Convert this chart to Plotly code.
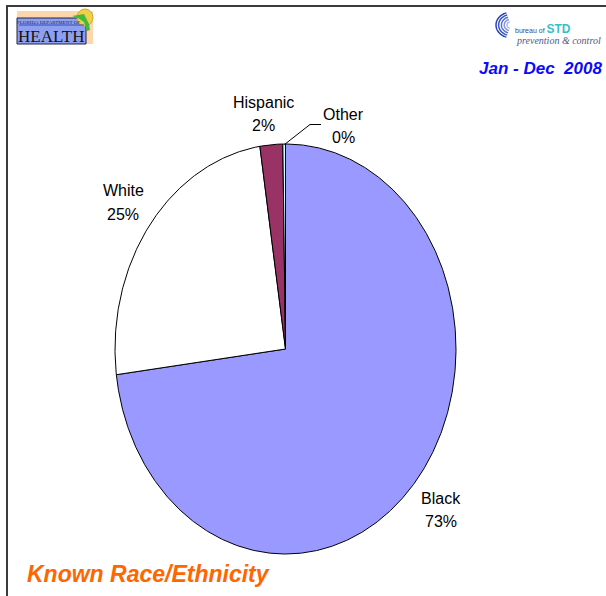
import numpy as np
import plotly.graph_objects as go

# ---- data ----
categories = ["Black", "White", "Hispanic", "Other"]
values = [73.0, 24.6, 2.15, 0.25]
colors = ["#9999ff", "#ffffff", "#993366", "#ccffff"]
title_text = "Known Race/Ethnicity"
period_text = "Jan - Dec  2008"

W, H = 606, 596
CX, CY, RX, RY = 285.5, 349.0, 170.5, 205.0

def px(x):
    return x / W

def py(y):
    return 1 - y / H

fig = go.Figure()

# pie slices: unit-circle wedges, stretched into an ellipse by the axis scaling
total = sum(values)
start = 0.0
for cat, val, col in zip(categories, values, colors):
    frac = val / total
    a0, a1 = start * 2 * np.pi, (start + frac) * 2 * np.pi
    n = max(4, int(frac * 720))
    t = np.linspace(a0, a1, n)
    xs = np.concatenate([[0], np.sin(t), [0]])
    ys = np.concatenate([[0], np.cos(t), [0]])
    fig.add_trace(go.Scatter(x=xs, y=ys, mode="lines", fill="toself",
                             fillcolor=col, line=dict(color="black", width=1),
                             name=cat, hoverinfo="name", showlegend=False))
    start += frac

# axis ranges so that unit circle maps onto the ellipse in pixel space
x_range = [-CX / RX, (W - CX) / RX]
y_range = [-(H - CY) / RY, CY / RY]

fig.update_layout(
    width=W, height=H,
    margin=dict(l=0, r=0, t=0, b=0),
    paper_bgcolor="white", plot_bgcolor="white",
    xaxis=dict(range=x_range, visible=False, fixedrange=True),
    yaxis=dict(range=y_range, visible=False, fixedrange=True),
    showlegend=False,
)

# slice labels
label_pos = {"Black": (441, 498), "White": (123, 191),
             "Hispanic": (263, 102), "Other": (343, 114)}
lab_font = dict(family="Liberation Sans, Arial", size=16, color="black")
for cat, val in zip(categories, values):
    x, y = label_pos[cat]
    pct = f"{val / total * 100:.0f}%"
    fig.add_annotation(x=px(x), y=py(y), xref="paper", yref="paper", text=cat,
                       showarrow=False, font=lab_font, xanchor="center", yanchor="middle")
    fig.add_annotation(x=px(x), y=py(y + 23), xref="paper", yref="paper", text=pct,
                       showarrow=False, font=lab_font, xanchor="center", yanchor="middle")

shapes = []
# leader line for "Other"
shapes.append(dict(type="path", xref="paper", yref="paper",
                   path=f"M {px(284.5)} {py(144.5)} L {px(310)} {py(124.5)} L {px(321)} {py(124.5)}",
                   line=dict(color="black", width=1)))
# frame lines (top and left)
shapes.append(dict(type="line", xref="paper", yref="paper", x0=px(6), x1=1, y0=py(6), y1=py(6),
                   line=dict(color="#3c3c3c", width=2)))
shapes.append(dict(type="line", xref="paper", yref="paper", x0=px(7), x1=px(7), y0=py(5), y1=0,
                   line=dict(color="#3c3c3c", width=2)))

# Florida Dept of Health logo (approximation)
shapes.append(dict(type="rect", xref="paper", yref="paper", x0=px(17), x1=px(93), y0=py(11), y1=py(44),
                   fillcolor="#fcd7ab", line=dict(width=0)))
shapes.append(dict(type="rect", xref="paper", yref="paper", x0=px(17), x1=px(86), y0=py(18), y1=py(44),
                   fillcolor="#8f9ff0", line=dict(color="#222244", width=1)))
shapes.append(dict(type="circle", xref="paper", yref="paper", x0=px(77), x1=px(93), y0=py(9), y1=py(26),
                   fillcolor="#f2cf4a", line=dict(color="#c9a830", width=1)))
shapes.append(dict(type="path", xref="paper", yref="paper",
                   path=(f"M {px(72)} {py(16)} L {px(84)} {py(14)} L {px(86)} {py(18)} "
                         f"L {px(89)} {py(24)} L {px(90)} {py(30)} L {px(87)} {py(31)} "
                         f"L {px(84)} {py(22)} L {px(78)} {py(18)} Z"),
                   fillcolor="#3dbb3d", line=dict(width=0)))
shapes.append(dict(type="line", xref="paper", yref="paper", x0=px(19), x1=px(84), y0=py(25), y1=py(25),
                   line=dict(color="#2a4fc0", width=1)))

# STD bureau logo arcs (approximation)
arc_cols = ["#a9b8ee", "#7f95e0", "#5670d2", "#3a55c2", "#2a45b5"]
for i, r in enumerate([4, 6.8, 9.6, 12.4, 15]):
    cx, cyy = 511, 25
    th = np.linspace(np.pi * 0.6, np.pi * 1.4, 24)
    pts = [(cx + r * np.cos(a), cyy - r * 0.85 * np.sin(a)) for a in th]
    path = "M " + " L ".join(f"{px(a)} {py(b)}" for a, b in pts)
    shapes.append(dict(type="path", xref="paper", yref="paper", path=path,
                       line=dict(color=arc_cols[i], width=1.5)))

fig.update_layout(shapes=shapes)

fig.add_annotation(x=px(51), y=py(36), xref="paper", yref="paper", text="HEALTH",
                   showarrow=False, font=dict(family="Liberation Serif", size=17, color="#111111"),
                   xanchor="center", yanchor="middle")
fig.add_annotation(x=px(48), y=py(22), xref="paper", yref="paper", text="FLORIDA DEPARTMENT OF",
                   showarrow=False, font=dict(family="Liberation Serif", size=5, color="#222244"),
                   xanchor="center", yanchor="middle")
fig.add_annotation(x=px(514), y=py(29), xref="paper", yref="paper",
                   text="bureau of <span style='font-size:12px;color:#33c2c8'><b>STD</b></span>",
                   showarrow=False, font=dict(family="Liberation Sans", size=7, color="#3a4a8a"),
                   xanchor="left", yanchor="middle", borderpad=0)
fig.add_annotation(x=px(515), y=py(40), xref="paper", yref="paper", text="<i>prevention &amp; control</i>",
                   showarrow=False, font=dict(family="Liberation Serif", size=10, color="#4a5a8a"),
                   xanchor="left", yanchor="middle", borderpad=0)

# period text
fig.add_annotation(x=px(604), y=py(69), xref="paper", yref="paper", text=f"<b><i>{period_text}</i></b>",
                   showarrow=False, font=dict(family="Liberation Sans", size=17, color="#0a0aff"),
                   xanchor="right", yanchor="middle")
# title
fig.add_annotation(x=px(25), y=py(574), xref="paper", yref="paper", text=f"<b><i>{title_text}</i></b>",
                   showarrow=False, font=dict(family="Liberation Sans", size=23, color="#ff6600"),
                   xanchor="left", yanchor="middle")

fig.write_html("out.html", config={"displayModeBar": False})

# remove the default page margin so the figure sits at the window's top-left corner
with open("out.html", "r", encoding="utf-8") as f:
    html = f.read()
html = html.replace("<head>", "<head><style>html,body{margin:0;padding:0;overflow:hidden;}</style>", 1)
with open("out.html", "w", encoding="utf-8") as f:
    f.write(html)
